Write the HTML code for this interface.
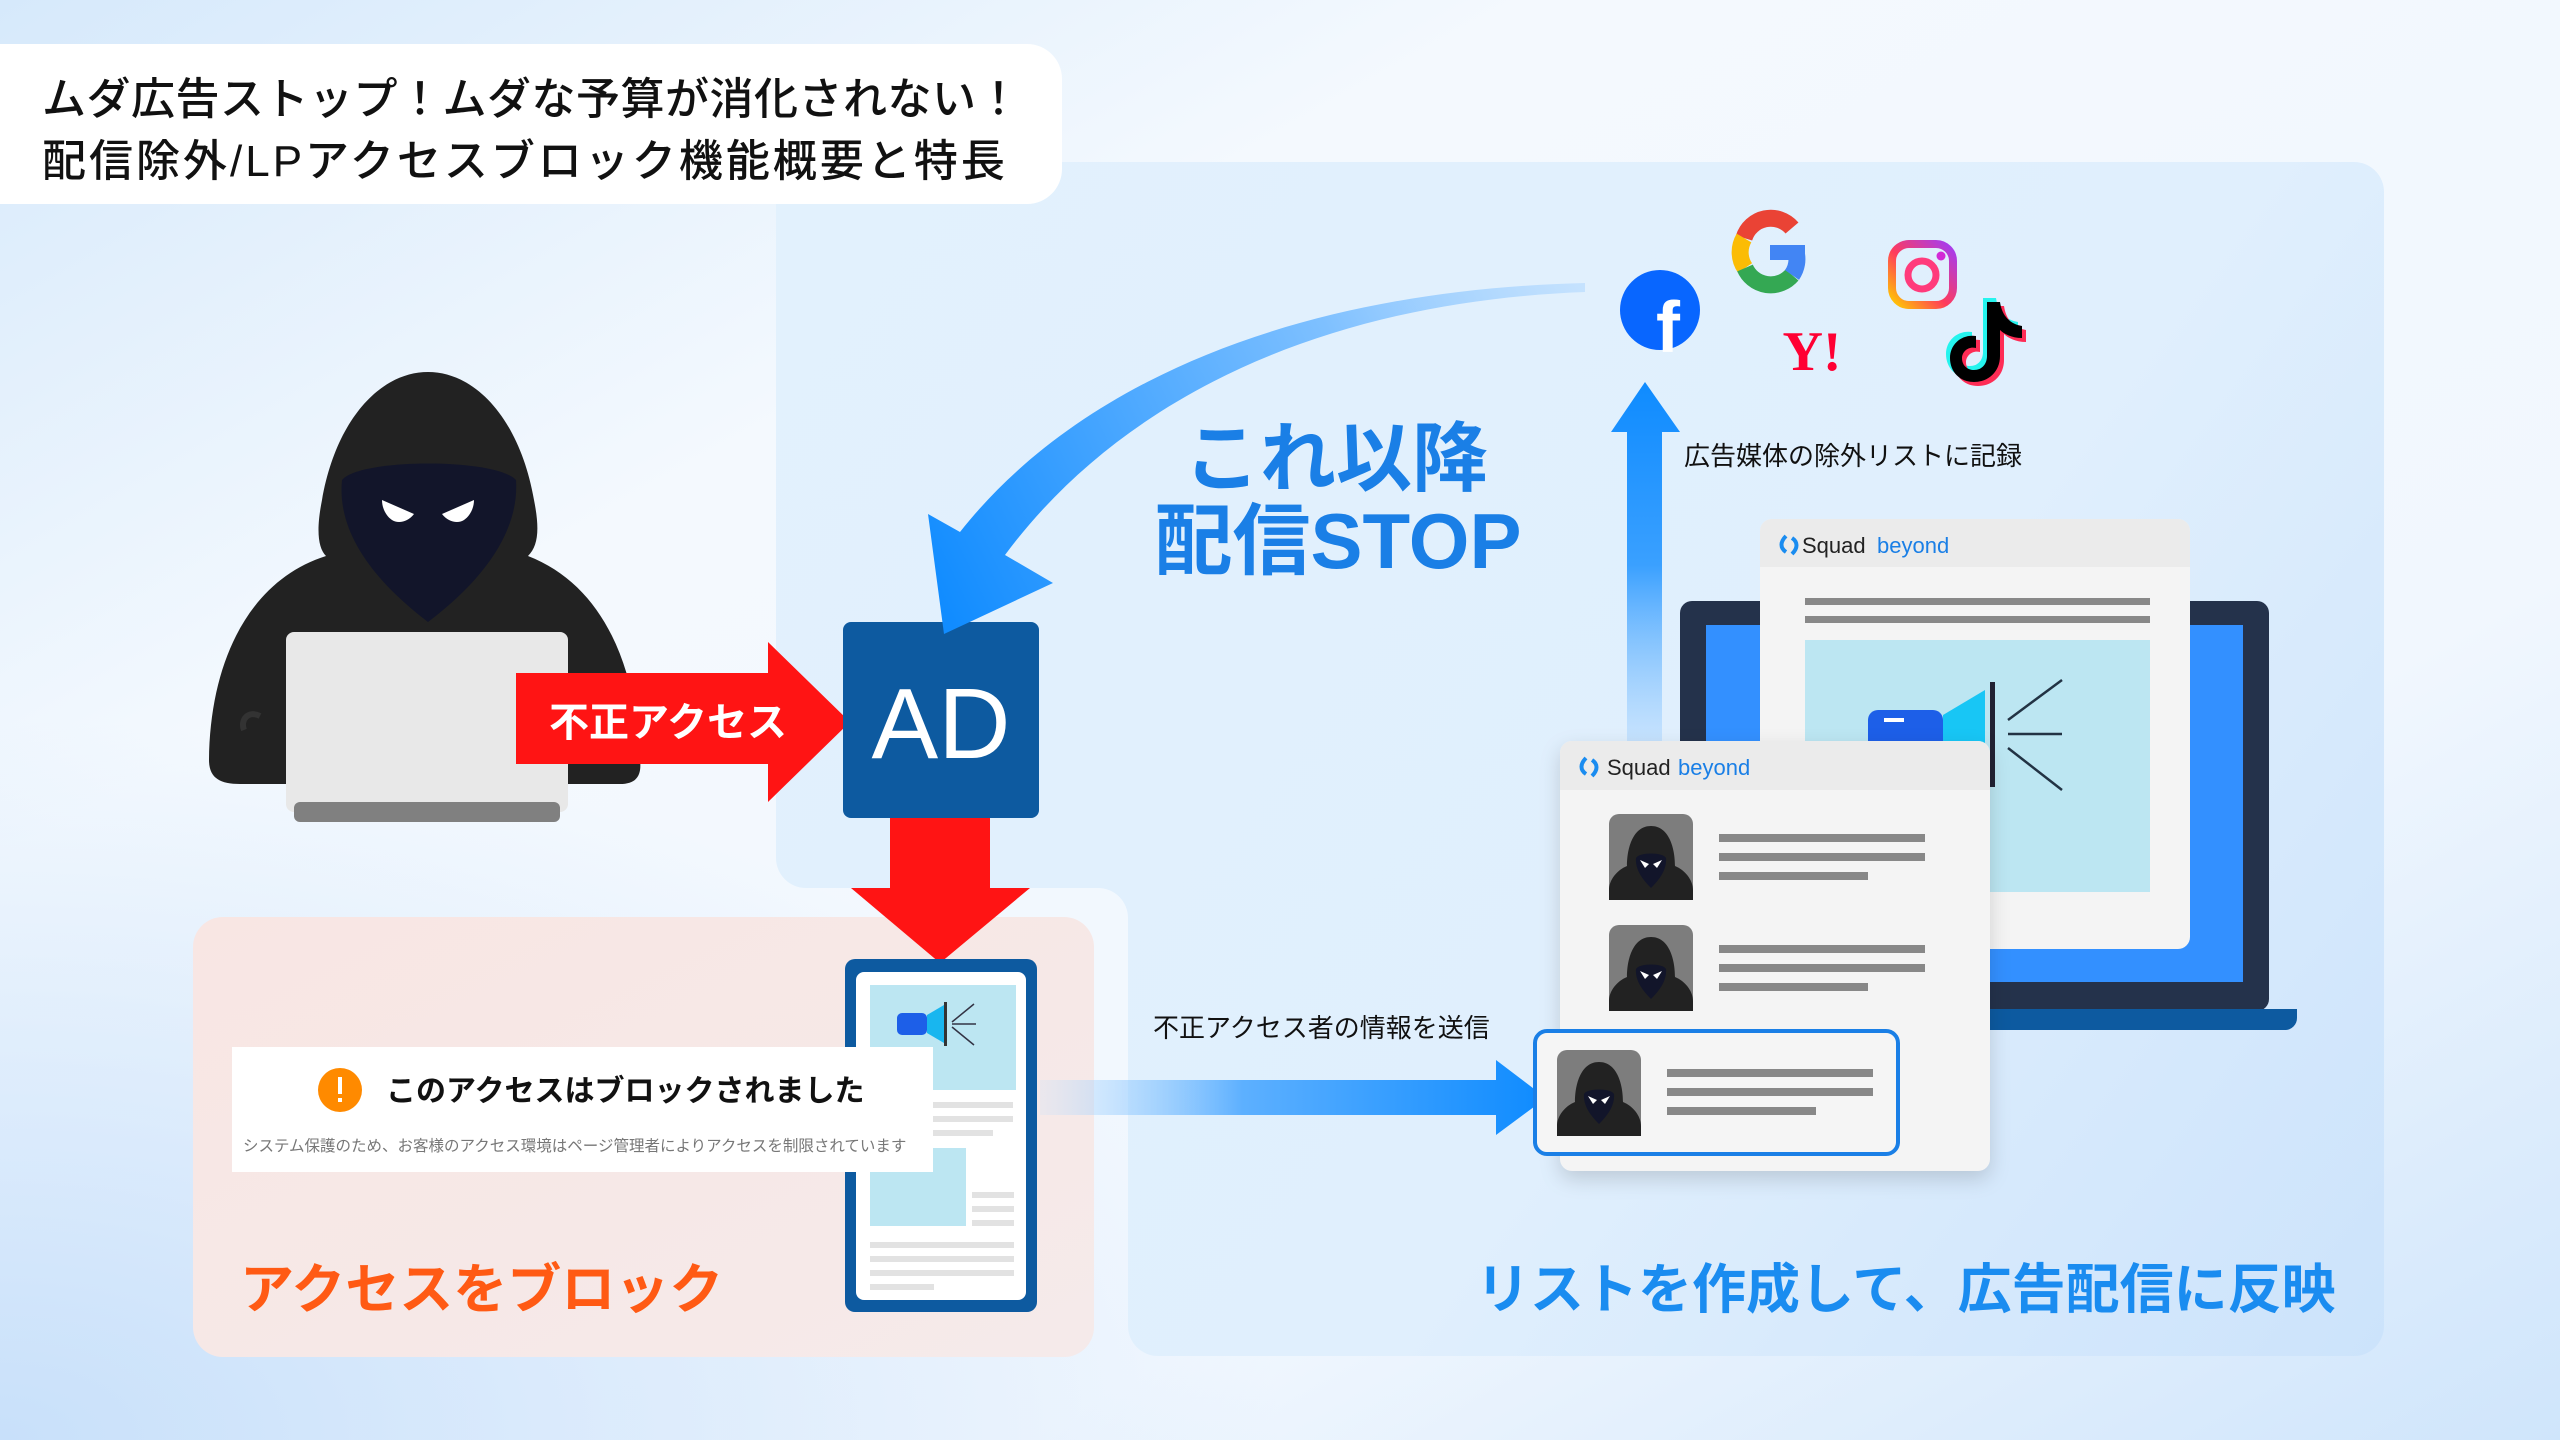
<!DOCTYPE html>
<html><head><meta charset="utf-8"><style>
html,body{margin:0;padding:0;width:2560px;height:1440px;overflow:hidden}
svg{display:block}
text{font-family:"Liberation Sans","Noto Sans CJK JP",sans-serif}
</style></head><body>
<svg width="2560" height="1440" viewBox="0 0 2560 1440" xmlns="http://www.w3.org/2000/svg">
<defs>
<linearGradient id="bg" x1="0" y1="0" x2="1" y2="1">
<stop offset="0" stop-color="#d6e9fb"/><stop offset="0.3" stop-color="#f4f9fe"/><stop offset="0.7" stop-color="#f1f7fe"/><stop offset="1" stop-color="#cfe5fb"/></linearGradient>
<radialGradient id="bl" cx="0" cy="1" r="0.5"><stop offset="0" stop-color="#c8e0fa"/><stop offset="1" stop-color="#c8e0fa" stop-opacity="0"/></radialGradient>
<linearGradient id="pan" x1="776" y1="162" x2="2384" y2="1356" gradientUnits="userSpaceOnUse"><stop offset="0" stop-color="#e2f1fd"/><stop offset="0.6" stop-color="#e0effd"/><stop offset="1" stop-color="#cce3fb"/></linearGradient>
<linearGradient id="pink" x1="0" y1="0" x2="1" y2="1"><stop offset="0" stop-color="#f8e6e3"/><stop offset="1" stop-color="#f5eaea"/></linearGradient>
<linearGradient id="curve" x1="1585" y1="290" x2="940" y2="600" gradientUnits="userSpaceOnUse"><stop offset="0" stop-color="#a9d4ff" stop-opacity="0.5"/><stop offset="0.35" stop-color="#7ec0ff"/><stop offset="1" stop-color="#118cff"/></linearGradient>
<linearGradient id="up" x1="0" y1="380" x2="0" y2="750" gradientUnits="userSpaceOnUse"><stop offset="0" stop-color="#0e8bff"/><stop offset="0.5" stop-color="#3aa0ff"/><stop offset="1" stop-color="#a8d4ff" stop-opacity="0.4"/></linearGradient>
<linearGradient id="rt" x1="1040" y1="0" x2="1546" y2="0" gradientUnits="userSpaceOnUse"><stop offset="0" stop-color="#bfe0ff" stop-opacity="0.2"/><stop offset="0.4" stop-color="#5db0ff"/><stop offset="1" stop-color="#0e8bff"/></linearGradient>
<linearGradient id="ig" x1="0" y1="1" x2="1" y2="0"><stop offset="0" stop-color="#ffcc00"/><stop offset="0.45" stop-color="#ff3b5c"/><stop offset="1" stop-color="#a23cf5"/></linearGradient>
<g id="hk">
<rect x="0" y="0" width="84" height="86" rx="10" fill="#7d7d7d"/>
<path d="M42,12 C24,12 18,34 18,52 C8,56 0,66 0,76 L0,86 L84,86 L84,76 C84,66 76,56 66,52 C66,34 60,12 42,12 Z" fill="#222"/>
<path d="M27,44 C30,38 54,38 57,44 C58,56 50,66 42,74 C34,66 26,56 27,44 Z" fill="#12152a"/>
<path d="M31,46 L40,50 L36,54 Z M53,46 L44,50 L48,54 Z" fill="#fff"/>
</g>
</defs>
<rect width="2560" height="1440" fill="url(#bg)"/>
<rect width="2560" height="1440" fill="url(#bl)"/>

<!-- panels -->
<path d="M806,162 H2354 A30,30 0 0 1 2384,192 V1326 A30,30 0 0 1 2354,1356 H1158 A30,30 0 0 1 1128,1326 V918 A30,30 0 0 0 1098,888 H806 A30,30 0 0 1 776,858 V192 A30,30 0 0 1 806,162 Z" fill="url(#pan)"/>
<rect x="193" y="917" width="901" height="440" rx="30" fill="url(#pink)"/>

<!-- title -->
<path d="M0,44 H1027 A35,35 0 0 1 1062,79 V169 A35,35 0 0 1 1027,204 H0 Z" fill="#fff"/>
<text x="42" y="114" font-size="44" font-weight="500" fill="#111" letter-spacing="0.5">ムダ広告ストップ！ムダな予算が消化されない！</text>
<text x="42" y="176" font-size="44" font-weight="500" fill="#111" letter-spacing="3">配信除外/LPアクセスブロック機能概要と特長</text>

<!-- hacker -->
<path d="M428,372 C380,372 336,420 322,500 C316,530 318,548 326,556 C250,580 210,660 209,760 C209,778 220,784 240,784 L620,784 C636,784 642,776 640,760 C636,660 600,584 528,556 C538,546 540,530 534,500 C520,420 476,372 428,372 Z" fill="#222"/>
<path d="M342,480 C360,458 496,458 516,480 C520,540 470,590 428,622 C386,590 336,540 342,480 Z" fill="#12152a"/>
<path d="M382,500 L414,514 C408,522 398,524 392,520 C386,516 382,508 382,500 Z M474,500 L442,514 C448,522 458,524 464,520 C470,516 474,508 474,500 Z" fill="#fff"/>
<path d="M260,716 C248,710 240,720 244,730" stroke="#333" stroke-width="6" fill="none"/>
<rect x="286" y="632" width="282" height="180" rx="8" fill="#e8e8e8"/>
<rect x="294" y="802" width="266" height="20" rx="6" fill="#808080"/>

<!-- red arrow right -->
<path d="M516,673 H768 V642 L850,722 L768,802 V764 H516 Z" fill="#ff1414"/>
<text x="668" y="736" font-size="40" font-weight="bold" fill="#fff" text-anchor="middle">不正アクセス</text>

<!-- AD -->
<rect x="843" y="622" width="196" height="196" rx="8" fill="#0d5aa0"/>
<text x="941" y="758" font-size="100" fill="#fff" text-anchor="middle">AD</text>

<!-- red arrow down -->
<path d="M890,818 H990 V888 H1030 L940,963 L851,888 H890 Z" fill="#ff1414"/>

<!-- curved arrow -->
<path d="M1585,283 C1300,290 1080,380 960,532 L928,514 L944,634 L1053,583 L1005,555 C1120,400 1320,302 1585,292 Z" fill="url(#curve)"/>
<text x="1336" y="485" font-size="76" font-weight="bold" fill="#1a7fe6" text-anchor="middle">これ以降</text>
<text x="1338" y="568" font-size="78" font-weight="bold" fill="#1a7fe6" text-anchor="middle">配信STOP</text>

<!-- phone -->
<rect x="845" y="959" width="192" height="353" rx="10" fill="#0d5aa0"/>
<rect x="856" y="972" width="170" height="328" rx="8" fill="#fff"/>
<rect x="870" y="985" width="146" height="105" fill="#bce6f2"/>
<rect x="870" y="1148" width="96" height="78" fill="#bce6f2"/>
<g fill="#e2e2e2"><rect x="933" y="1102" width="80" height="6"/><rect x="933" y="1116" width="80" height="6"/><rect x="933" y="1130" width="60" height="6"/>
<rect x="972" y="1192" width="42" height="6"/><rect x="972" y="1206" width="42" height="6"/><rect x="972" y="1220" width="42" height="6"/>
<rect x="870" y="1242" width="144" height="6"/><rect x="870" y="1256" width="144" height="6"/><rect x="870" y="1270" width="144" height="6"/><rect x="870" y="1284" width="64" height="6"/></g>
<rect x="897" y="1013" width="30" height="22" rx="5" fill="#1d5fe8"/>
<path d="M927,1015 L944,1005 V1043 L927,1033 Z" fill="#18b6ef"/>
<rect x="944" y="1002" width="3" height="44" fill="#333"/>
<path d="M952,1022 L974,1004 M952,1024 H976 M952,1027 L974,1045" stroke="#334" stroke-width="1.5"/>

<!-- block notice -->
<rect x="232" y="1047" width="701" height="125" fill="#fff"/>
<circle cx="340" cy="1090" r="22" fill="#ff8a00"/>
<rect x="338" y="1077" width="4" height="17" fill="#fff"/><rect x="338" y="1098" width="4" height="4" fill="#fff"/>
<text x="386" y="1101" font-size="30" font-weight="bold" fill="#111">このアクセスはブロックされました</text>
<text x="243" y="1151" font-size="15.5" fill="#777">システム保護のため、お客様のアクセス環境はページ管理者によりアクセスを制限されています</text>
<text x="240" y="1308" font-size="54" font-weight="bold" fill="#ff5a14">アクセスをブロック</text>

<!-- right arrow -->
<path d="M1040,1080 H1496 V1060 L1546,1098 L1496,1135 V1115 H1040 Z" fill="url(#rt)"/>
<text x="1153" y="1037" font-size="26" fill="#111">不正アクセス者の情報を送信</text>

<!-- up arrow -->
<path d="M1627,750 V432 H1611 L1645,382 L1680,432 H1662 V750 Z" fill="url(#up)"/>
<text x="1684" y="465" font-size="26" fill="#111">広告媒体の除外リストに記録</text>

<!-- icons -->
<circle cx="1660" cy="310" r="40" fill="#0866ff"/>
<text x="1668" y="352" font-size="72" font-weight="bold" fill="#fff" text-anchor="middle">f</text>
<g fill="none" stroke-width="17">
<path d="M1792,228 A28,28 0 0 0 1744,238" stroke="#ea4335"/>
<path d="M1744,238 A28,28 0 0 0 1745,268" stroke="#fbbc05"/>
<path d="M1745,268 A28,28 0 0 0 1792,275" stroke="#34a853"/>
<path d="M1792,275 A28,28 0 0 0 1796,252" stroke="#4285f4"/>
</g>
<rect x="1770" y="245" width="35" height="15" fill="#4285f4"/>
<text x="1812" y="370" font-size="56" font-weight="bold" fill="#ff0033" text-anchor="middle" style="font-family:'Liberation Serif',serif">Y!</text>
<rect x="1892" y="244" width="61" height="61" rx="17" fill="none" stroke="url(#ig)" stroke-width="8"/>
<circle cx="1922" cy="275" r="14" fill="none" stroke="#ff3b7c" stroke-width="7"/>
<circle cx="1941" cy="256" r="4.5" fill="#d22ad6"/>
<g transform="translate(1990,340)">
<path d="M-3,-38 H10 C12,-24 20,-16 32,-14 V-2 C22,-2 14,-6 10,-10 V16 C10,32 -2,42 -16,42 C-30,42 -40,32 -40,18 C-40,4 -28,-6 -14,-4 V8 C-22,6 -28,12 -28,18 C-28,26 -22,30 -16,30 C-8,30 -3,24 -3,16 Z" fill="#25f4ee" transform="translate(-4,-4)"/>
<path d="M-3,-38 H10 C12,-24 20,-16 32,-14 V-2 C22,-2 14,-6 10,-10 V16 C10,32 -2,42 -16,42 C-30,42 -40,32 -40,18 C-40,4 -28,-6 -14,-4 V8 C-22,6 -28,12 -28,18 C-28,26 -22,30 -16,30 C-8,30 -3,24 -3,16 Z" fill="#fe2c55" transform="translate(4,4)"/>
<path d="M-3,-38 H10 C12,-24 20,-16 32,-14 V-2 C22,-2 14,-6 10,-10 V16 C10,32 -2,42 -16,42 C-30,42 -40,32 -40,18 C-40,4 -28,-6 -14,-4 V8 C-22,6 -28,12 -28,18 C-28,26 -22,30 -16,30 C-8,30 -3,24 -3,16 Z" fill="#000"/>
</g>

<!-- laptop -->
<rect x="1680" y="601" width="589" height="410" rx="12" fill="#24324b"/>
<rect x="1706" y="625" width="537" height="357" fill="#3390ff"/>
<path d="M1680,1009 H2297 V1018 A12,12 0 0 1 2285,1030 H1680 Z" fill="#0d5aa0"/>

<!-- back window -->
<rect x="1760" y="519" width="430" height="430" rx="12" fill="#f4f4f4"/>
<path d="M1772,519 H2178 A12,12 0 0 1 2190,531 V567 H1760 V531 A12,12 0 0 1 1772,519 Z" fill="#ebebeb"/>
<path d="M1786,536 C1780,542 1780,548 1786,552 M1792,538 C1798,542 1798,548 1792,554" stroke="#1a8cf0" stroke-width="4" fill="none"/>
<text x="1802" y="553" font-size="22" fill="#222">Squad</text><text x="1877" y="553" font-size="22" fill="#1a7fe6">beyond</text>
<rect x="1805" y="598" width="345" height="7" fill="#888"/><rect x="1805" y="616" width="345" height="7" fill="#888"/>
<rect x="1805" y="640" width="345" height="252" fill="#bce6f2"/>
<rect x="1868" y="710" width="75" height="48" rx="10" fill="#1d5fe8"/>
<rect x="1884" y="718" width="20" height="4" fill="#fff"/>
<path d="M1943,715 L1985,690 V782 L1943,758 Z" fill="#18c6f5"/>
<rect x="1990" y="682" width="5" height="105" fill="#223"/>
<path d="M2008,720 L2062,680 M2008,734 H2062 M2008,748 L2062,790" stroke="#234" stroke-width="2.5"/>

<!-- front window -->
<rect x="1560" y="741" width="430" height="430" rx="12" fill="#f4f4f4" style="filter:drop-shadow(0 8px 10px rgba(0,0,0,0.15))"/>
<path d="M1572,741 H1978 A12,12 0 0 1 1990,753 V790 H1560 V753 A12,12 0 0 1 1572,741 Z" fill="#ebebeb"/>
<path d="M1586,758 C1580,764 1580,770 1586,774 M1592,760 C1598,764 1598,770 1592,776" stroke="#1a8cf0" stroke-width="4" fill="none"/>
<text x="1607" y="775" font-size="22" fill="#222">Squad</text><text x="1678" y="775" font-size="22" fill="#1a7fe6">beyond</text>
<use href="#hk" x="1609" y="814"/>
<g fill="#888"><rect x="1719" y="834" width="206" height="8"/><rect x="1719" y="853" width="206" height="8"/><rect x="1719" y="872" width="149" height="8"/>
<rect x="1719" y="945" width="206" height="8"/><rect x="1719" y="964" width="206" height="8"/><rect x="1719" y="983" width="149" height="8"/></g>
<use href="#hk" x="1609" y="925"/>
<rect x="1535" y="1031" width="363" height="123" rx="12" fill="#f5f5f5" stroke="#1a7fe6" stroke-width="4"/>
<use href="#hk" x="1557" y="1050"/>
<g fill="#888"><rect x="1667" y="1069" width="206" height="8"/><rect x="1667" y="1088" width="206" height="8"/><rect x="1667" y="1107" width="149" height="8"/></g>

<text x="1476" y="1308" font-size="54" font-weight="bold" fill="#1a8cf0">リストを作成して、広告配信に反映</text>
</svg>
</body></html>
